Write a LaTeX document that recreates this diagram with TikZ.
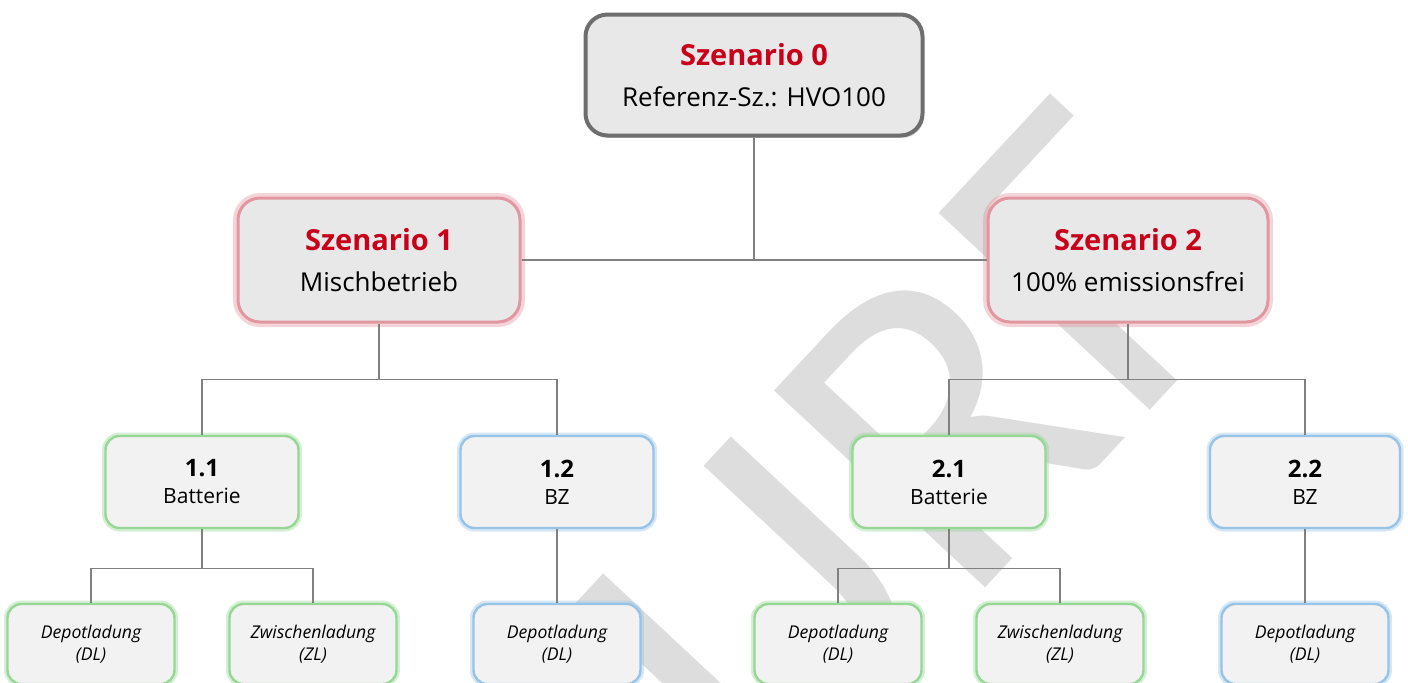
\documentclass[tikz,border=0pt]{standalone}
\usepackage{fontspec}
\setmainfont{Open Sans}
\newfontfamily\wzfont{Carlito}
\usepackage{tikz}
\usetikzlibrary{shadows}

\definecolor{szrot}{RGB}{200,0,25}
\definecolor{szrand}{RGB}{225,150,160}
\definecolor{gruenrand}{RGB}{150,215,150}
\definecolor{blaurand}{RGB}{150,195,230}
\definecolor{grundrand}{RGB}{110,110,110}
\definecolor{szfill}{RGB}{232,232,232}
\definecolor{boxfill}{RGB}{242,242,242}
\definecolor{linie}{RGB}{128,128,128}
\definecolor{wzgrau}{RGB}{221,221,221}

\newcommand{\sztitel}[1]{{\bfseries\fontsize{14.5}{20.5}\selectfont\color{szrot}#1}}
\newcommand{\varnr}[1]{{\bfseries\fontsize{12}{13.5}\selectfont #1}}

\tikzset{
  szbox/.style={rounded corners=11pt, fill=szfill, minimum width=141pt, minimum height=62pt,
    align=center, font=\fontsize{13}{20.5}\selectfont, inner sep=0pt},
  rotrand/.style={draw=szrand, line width=1.5pt, preaction={draw=szrand, line width=5pt, opacity=0.4}},
  varbox/.style={rounded corners=7pt, fill=boxfill, minimum width=96.5pt, minimum height=46pt,
    align=center, font=\fontsize{10.5}{13.5}\selectfont, inner sep=0pt},
  ladebox/.style={rounded corners=7pt, fill=boxfill, minimum width=83.5pt, minimum height=40pt,
    align=center, font=\itshape\fontsize{8.8}{11}\selectfont, inner sep=0pt},
  gruen/.style={draw=gruenrand, line width=1.2pt, preaction={draw=gruenrand, line width=3.5pt, opacity=0.4}},
  blau/.style={draw=blaurand, line width=1.2pt, preaction={draw=blaurand, line width=3.5pt, opacity=0.4}},
  verbinder/.style={draw=linie, line width=0.7pt},
  wasserzeichen/.style={text=wzgrau, font=\wzfont\fontsize{225}{225}\selectfont, inner sep=0pt}
}

\begin{document}
\begin{tikzpicture}[x=0.5pt, y=-0.5pt]
	\useasboundingbox (0,0) rectangle (1408,682);
	\clip (0,0) rectangle (1408,682);
	% Wasserzeichen
	\node[wasserzeichen, rotate=47, anchor=base east] (wz) at (1271,281) {ENTWURF};
	% Szenarien
	\node[szbox, draw=grundrand, line width=2pt, minimum width=168.5pt, minimum height=60.5pt,
		drop shadow={shadow xshift=0.8pt, shadow yshift=-1.2pt, fill=gray!70, opacity=0.5}] (s0) at (754,75)
		{\sztitel{Szenario 0}\\Referenz-Sz.: HVO100};
	\node[szbox, rotrand] (s1) at (379,260) {\sztitel{Szenario 1}\\Mischbetrieb};
	\node[szbox, rotrand, minimum width=140pt] (s2) at (1128,260) {\sztitel{Szenario 2}\\100\% emissionsfrei};
	% Varianten
	\node[varbox, gruen] (z11) at (202,482) {\varnr{1.1}\\Batterie};
	\node[varbox, blau] (z12) at (557,482) {\varnr{1.2}\\BZ};
	\node[varbox, gruen] (z21) at (949,482) {\varnr{2.1}\\Batterie};
	\node[varbox, blau, minimum width=95pt] (z22) at (1305,482) {\varnr{2.2}\\BZ};
	% Ladekonzepte
	\node[ladebox, gruen] (d11) at (91,644) {Depotladung\\(DL)};
	\node[ladebox, gruen] (w11) at (313,644) {Zwischenladung\\(ZL)};
	\node[ladebox, blau] (d12) at (557,644) {Depotladung\\(DL)};
	\node[ladebox, gruen] (d21) at (838,644) {Depotladung\\(DL)};
	\node[ladebox, gruen] (w21) at (1060,644) {Zwischenladung\\(ZL)};
	\node[ladebox, blau] (d22) at (1305,644) {Depotladung\\(DL)};
	% Verbindungen
	\draw[verbinder] (s0.south) -- (s0.south |- s1.east);
	\draw[verbinder] (s1.east) -- (s2.west);
	\draw[verbinder] (s1.south) -- ++(0,56) coordinate (k1);
	\draw[verbinder] (z11.north) |- (k1) -| (z12.north);
	\draw[verbinder] (s2.south) -- ++(0,56) coordinate (k2);
	\draw[verbinder] (z21.north) |- (k2) -| (z22.north);
	\draw[verbinder] (z11.south) -- ++(0,39) coordinate (k11);
	\draw[verbinder] (d11.north) |- (k11) -| (w11.north);
	\draw[verbinder] (z21.south) -- ++(0,39) coordinate (k21);
	\draw[verbinder] (d21.north) |- (k21) -| (w21.north);
	\draw[verbinder] (z12.south) -- (d12.north);
	\draw[verbinder] (z22.south) -- (d22.north);
\end{tikzpicture}
\end{document}
